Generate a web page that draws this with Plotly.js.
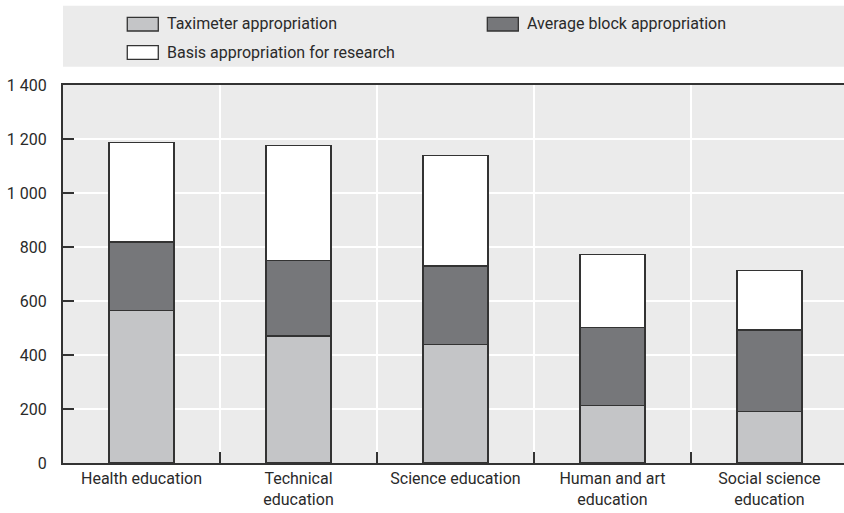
<!DOCTYPE html>
<html>
<head>
<meta charset="utf-8">
<script src="https://cdn.plot.ly/plotly-3.0.1.min.js"></script>
<style>html,body{margin:0;padding:0;background:#fff;}#chart{width:844px;height:513px;}</style>
</head>
<body>
<div id="chart"></div>
<script>
const categories = ["Health education", "Technical<br>education", "Science education", "Human and art<br>education", "Social science<br>education"];
const taximeter = [566, 470, 439, 213, 191];
const blockApprop = [252, 281, 291, 289, 302];
const research = [369, 426, 410, 269, 219];
const seriesNames = ["Taximeter appropriation", "Average block appropriation", "Basis appropriation for research"];
const seriesColors = ["#c4c5c7", "#76777a", "#ffffff"];

const FONT = "Roboto, Liberation Sans, Arial, sans-serif";
const TXT = "#2a2a2a";
const line = {color: "#333333", width: 1.3};

const seriesValues = [taximeter, blockApprop, research];
const traces = seriesValues.map((vals, i) => ({
  type: "bar", x: categories, y: vals, name: seriesNames[i],
  marker: {color: seriesColors[i], line: line}, width: 0.414
}));

// Legend laid out in two columns / two rows inside a grey band (paper coords)
const legendPos = [
  {sx0: 0.0823, sx1: 0.1220, sy0: 1.1429, sy1: 1.1791, tx: 0.1306, ty: 1.1614},
  {sx0: 0.5433, sx1: 0.5830, sy0: 1.1429, sy1: 1.1791, tx: 0.5915, ty: 1.1614},
  {sx0: 0.0823, sx1: 0.1220, sy0: 1.0680, sy1: 1.1040, tx: 0.1306, ty: 1.0860}
];

const shapes = [{type: "rect", xref: "paper", yref: "paper", x0: 0.0, x1: 1.01, y0: 1.0484, y1: 1.2098,
                 fillcolor: "#ebebeb", line: {width: 0}, layer: "below"}];
const annotations = [];
legendPos.forEach((p, i) => {
  shapes.push({type: "rect", xref: "paper", yref: "paper", x0: p.sx0, x1: p.sx1, y0: p.sy0, y1: p.sy1,
               fillcolor: seriesColors[i], line: {color: "#333333", width: 1.3}});
  annotations.push({xref: "paper", yref: "paper", x: p.tx, y: p.ty, xanchor: "left", yanchor: "middle",
                    text: seriesNames[i], showarrow: false,
                    font: {family: FONT, size: 16, color: TXT}});
});

const layout = {
  width: 844, height: 513,
  margin: {l: 63, r: 0, t: 85, b: 50},
  paper_bgcolor: "#ffffff",
  plot_bgcolor: "#ebebeb",
  barmode: "stack",
  separators: ". ",
  font: {family: FONT, size: 16, color: TXT},
  showlegend: false,
  shapes: shapes,
  annotations: annotations,
  xaxis: {
    type: "category", range: [-0.5, 4.475], fixedrange: true,
    tickson: "boundaries", ticks: "inside", ticklen: 11, tickwidth: 1.5, tickcolor: "#333333",
    showgrid: true, gridcolor: "#ffffff", gridwidth: 1.5,
    showline: true, linecolor: "#333333", linewidth: 2, mirror: true,
    tickfont: {family: FONT, size: 16, color: TXT}, tickangle: 0
  },
  yaxis: {
    range: [0, 1400], dtick: 200, fixedrange: true,
    ticks: "inside", ticklen: 11, tickwidth: 1.5, tickcolor: "#333333",
    showgrid: true, gridcolor: "#ffffff", gridwidth: 1.5,
    showline: true, linecolor: "#333333", linewidth: 2,
    zeroline: false, separatethousands: true, ticklabelstandoff: 11,
    tickfont: {family: FONT, size: 16, color: TXT}
  }
};

Plotly.newPlot("chart", traces, layout, {staticPlot: true, displayModeBar: false});
</script>
</body>
</html>
